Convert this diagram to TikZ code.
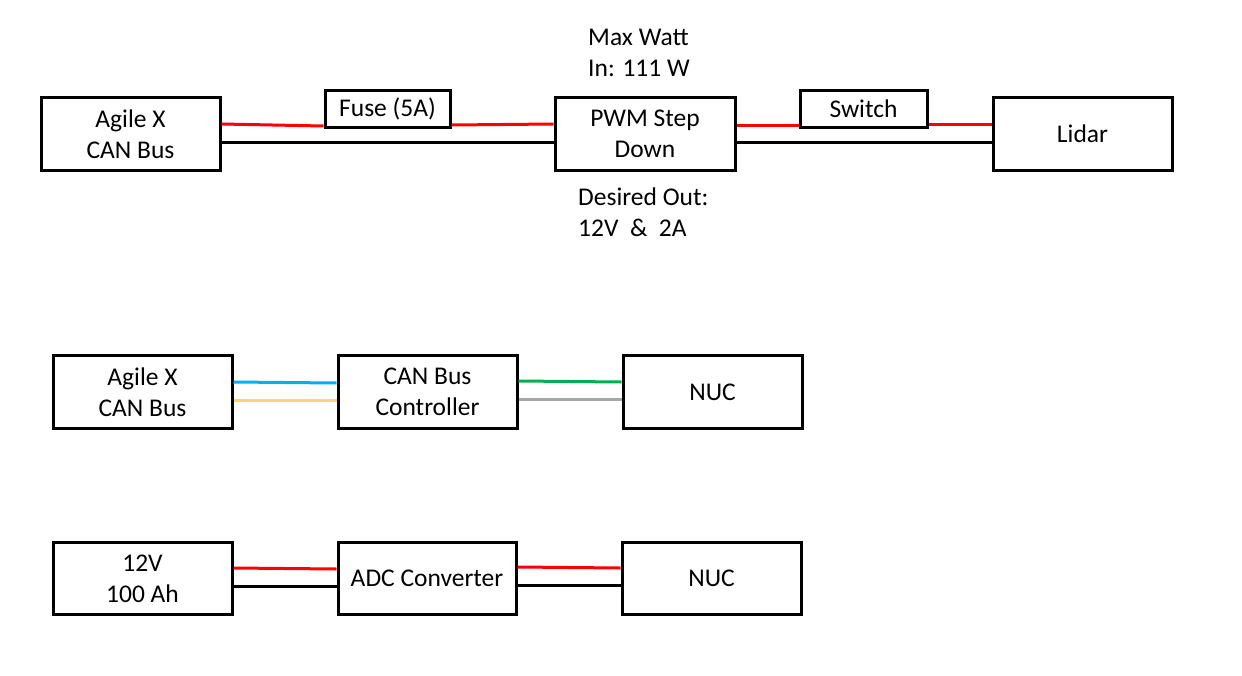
\documentclass[tikz,border=0pt]{standalone}
\usepackage{fontspec}
\setmainfont{Carlito}
\begin{document}
\begin{tikzpicture}[x=1pt,y=-1pt,
  box/.style={draw=black,line width=3pt,inner sep=0pt,align=center,
    font=\fontsize{25.5}{31}\selectfont},
  lbl/.style={inner sep=0pt,align=left,anchor=north west,font=\fontsize{25.5}{31}\selectfont},
  wire/.style={line width=3pt}]
\useasboundingbox (0,0) rectangle (1242,675);
\definecolor{cblue}{HTML}{00B0F0}
\definecolor{cyellow}{HTML}{F7D774}
\definecolor{cgreen}{HTML}{00B050}
\definecolor{cgray}{HTML}{A6A6A6}
% top row
\node[box,minimum width=179pt,minimum height=73pt] (ag1) at (130.5,134) {Agile X\\CAN Bus};
\node[box,minimum width=125pt,minimum height=37pt] (fuse) at (387.5,108.5) {Fuse (5A)};
\node[box,minimum width=180pt,minimum height=73pt] (pwm) at (645,134) {PWM Step\\Down};
\node[box,minimum width=127pt,minimum height=37pt] (sw) at (863.5,108.5) {Switch};
\node[box,minimum width=179pt,minimum height=73pt] (lidar) at (1082.5,134) {Lidar};
\node[lbl] (maxw) at (588,29) {Max Watt\\In: 111 W};
\node[lbl] (des) at (578,188) {Desired Out:\\12V~ \&~ 2A};
\draw[wire,red] (ag1.east |- 0,124) -- (fuse.west |- 0,126);
\draw[wire,red] (fuse.east |- 0,125) -- (pwm.west |- 0,124);
\draw[wire,red] (pwm.east |- 0,125) -- (sw.west |- 0,125);
\draw[wire,red] (sw.east |- 0,124) -- (lidar.west |- 0,124);
\draw[wire] (ag1.east |- 0,142) -- (pwm.west |- 0,142);
\draw[wire] (pwm.east |- 0,142) -- (lidar.west |- 0,142);
% middle row
\node[box,minimum width=179pt,minimum height=73pt] (ag2) at (142.5,392) {Agile X\\CAN Bus};
\node[box,minimum width=179pt,minimum height=73pt] (canc) at (427.5,392) {CAN Bus\\Controller};
\node[box,minimum width=179pt,minimum height=73pt] (nuc1) at (712.5,392) {NUC};
\draw[wire,cblue] (ag2.east |- 0,382) -- (canc.west |- 0,383);
\draw[wire,cyellow] (ag2.east |- 0,400) -- (canc.west |- 0,400);
\draw[wire,cgreen] (canc.east |- 0,381) -- (nuc1.west |- 0,382);
\draw[wire,cgray] (canc.east |- 0,399) -- (nuc1.west |- 0,399);
% bottom row
\node[box,minimum width=179pt,minimum height=72pt] (bat) at (142.5,578.5) {12V\\100 Ah};
\node[box,minimum width=178pt,minimum height=72pt] (adc) at (427,578.5) {ADC Converter};
\node[box,minimum width=179pt,minimum height=72pt] (nuc2) at (711.5,578.5) {NUC};
\draw[wire,red] (bat.east |- 0,568) -- (adc.west |- 0,569);
\draw[wire] (bat.east |- 0,586) -- (adc.west |- 0,586);
\draw[wire,red] (adc.east |- 0,567) -- (nuc2.west |- 0,568);
\draw[wire] (adc.east |- 0,585) -- (nuc2.west |- 0,585);
\end{tikzpicture}
\end{document}
